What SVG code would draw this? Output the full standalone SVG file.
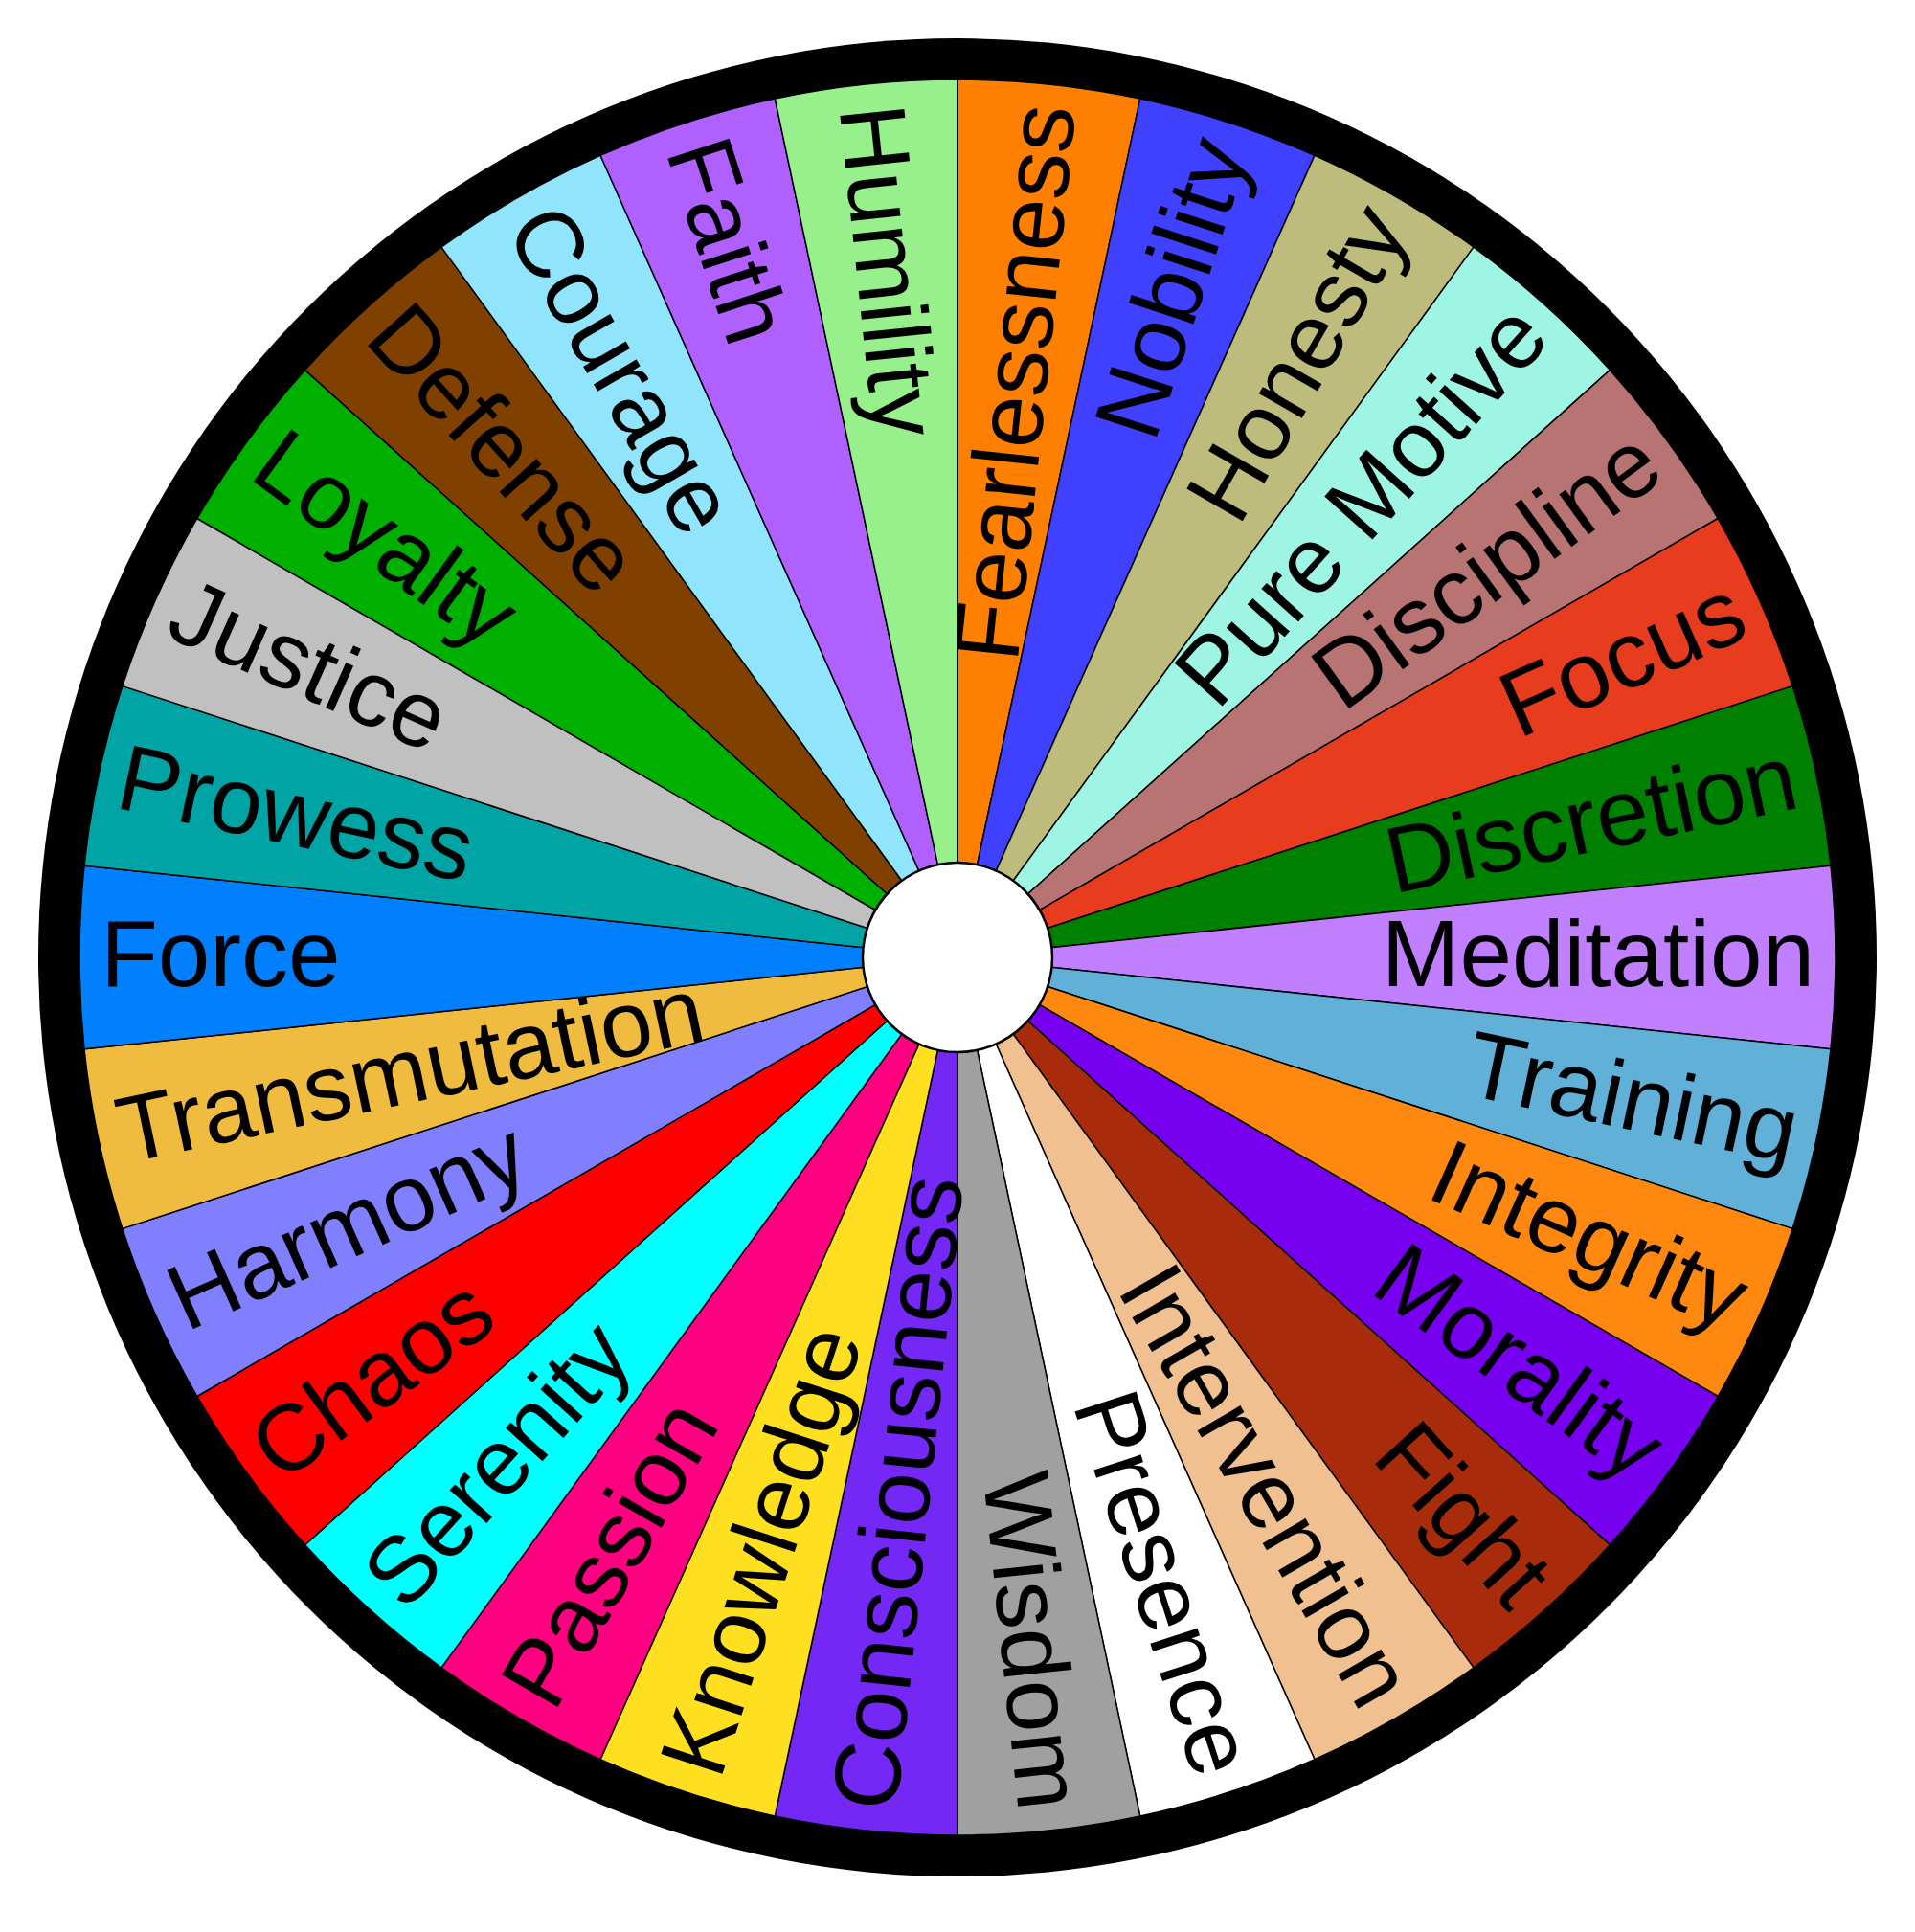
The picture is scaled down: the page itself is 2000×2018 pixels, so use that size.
<svg xmlns="http://www.w3.org/2000/svg" xmlns:xlink="http://www.w3.org/1999/xlink" width="2000" height="2018" viewBox="0 0 2000 2018">
<style>
.w{stroke:#000;stroke-width:1.5;stroke-linejoin:round}
.r{font-family:"Liberation Sans",Arial,sans-serif;font-size:98px;fill:#000;text-anchor:end}
.l{font-family:"Liberation Sans",Arial,sans-serif;font-size:98px;fill:#000;text-anchor:start}
</style>
<defs>
<path id="wedge" d="M1000,1000 L1000,83 A917,917 0 0 1 1190.66,103.04 Z"/>
</defs>
<rect width="2000" height="2018" fill="#fff"/>
<circle id="ring" cx="1000" cy="1000" r="960" fill="#000"/>
<g id="seg-fearlessness"><use xlink:href="#wedge" class="w" fill="#FF8000" transform="rotate(0 1000 1000)"/><text class="r" x="1895" y="1030" transform="rotate(-84 1000 1000)">Fearlessness</text></g>
<g id="seg-nobility"><use xlink:href="#wedge" class="w" fill="#4040FF" transform="rotate(12 1000 1000)"/><text class="r" x="1895" y="1030" transform="rotate(-72 1000 1000)">Nobility</text></g>
<g id="seg-honesty"><use xlink:href="#wedge" class="w" fill="#BDBC7C" transform="rotate(24 1000 1000)"/><text class="r" x="1895" y="1030" transform="rotate(-60 1000 1000)">Honesty</text></g>
<g id="seg-puremotive"><use xlink:href="#wedge" class="w" fill="#9EF5E3" transform="rotate(36 1000 1000)"/><text class="r" x="1895" y="1030" transform="rotate(-48 1000 1000)">Pure Motive</text></g>
<g id="seg-discipline"><use xlink:href="#wedge" class="w" fill="#B87373" transform="rotate(48 1000 1000)"/><text class="r" x="1895" y="1030" transform="rotate(-36 1000 1000)">Discipline</text></g>
<g id="seg-focus"><use xlink:href="#wedge" class="w" fill="#E83C1E" transform="rotate(60 1000 1000)"/><text class="r" x="1895" y="1030" transform="rotate(-24 1000 1000)">Focus</text></g>
<g id="seg-discretion"><use xlink:href="#wedge" class="w" fill="#008000" transform="rotate(72 1000 1000)"/><text class="r" x="1895" y="1030" transform="rotate(-12 1000 1000)">Discretion</text></g>
<g id="seg-meditation"><use xlink:href="#wedge" class="w" fill="#BF7FFF" transform="rotate(84 1000 1000)"/><text class="r" x="1895" y="1030" transform="rotate(0 1000 1000)">Meditation</text></g>
<g id="seg-training"><use xlink:href="#wedge" class="w" fill="#60B0D8" transform="rotate(96 1000 1000)"/><text class="r" x="1895" y="1030" transform="rotate(12 1000 1000)">Training</text></g>
<g id="seg-integrity"><use xlink:href="#wedge" class="w" fill="#FF8811" transform="rotate(108 1000 1000)"/><text class="r" x="1895" y="1030" transform="rotate(24 1000 1000)">Integrity</text></g>
<g id="seg-morality"><use xlink:href="#wedge" class="w" fill="#7800F0" transform="rotate(120 1000 1000)"/><text class="r" x="1895" y="1030" transform="rotate(36 1000 1000)">Morality</text></g>
<g id="seg-fight"><use xlink:href="#wedge" class="w" fill="#A82C0C" transform="rotate(132 1000 1000)"/><text class="r" x="1895" y="1030" transform="rotate(48 1000 1000)">Fight</text></g>
<g id="seg-intervention"><use xlink:href="#wedge" class="w" fill="#F0C090" transform="rotate(144 1000 1000)"/><text class="r" x="1895" y="1030" transform="rotate(60 1000 1000)">Intervention</text></g>
<g id="seg-presence"><use xlink:href="#wedge" class="w" fill="#FFFFFF" transform="rotate(156 1000 1000)"/><text class="r" x="1895" y="1030" transform="rotate(72 1000 1000)">Presence</text></g>
<g id="seg-wisdom"><use xlink:href="#wedge" class="w" fill="#A0A0A0" transform="rotate(168 1000 1000)"/><text class="r" x="1895" y="1030" transform="rotate(84 1000 1000)">Wisdom</text></g>
<g id="seg-consciousness"><use xlink:href="#wedge" class="w" fill="#7428F5" transform="rotate(180 1000 1000)"/><text class="l" x="105" y="1030" transform="rotate(-84 1000 1000)">Consciousness</text></g>
<g id="seg-knowledge"><use xlink:href="#wedge" class="w" fill="#FFE020" transform="rotate(192 1000 1000)"/><text class="l" x="105" y="1030" transform="rotate(-72 1000 1000)">Knowledge</text></g>
<g id="seg-passion"><use xlink:href="#wedge" class="w" fill="#FF0080" transform="rotate(204 1000 1000)"/><text class="l" x="105" y="1030" transform="rotate(-60 1000 1000)">Passion</text></g>
<g id="seg-serenity"><use xlink:href="#wedge" class="w" fill="#00FFFF" transform="rotate(216 1000 1000)"/><text class="l" x="105" y="1030" transform="rotate(-48 1000 1000)">Serenity</text></g>
<g id="seg-chaos"><use xlink:href="#wedge" class="w" fill="#FF0000" transform="rotate(228 1000 1000)"/><text class="l" x="105" y="1030" transform="rotate(-36 1000 1000)">Chaos</text></g>
<g id="seg-harmony"><use xlink:href="#wedge" class="w" fill="#8080FF" transform="rotate(240 1000 1000)"/><text class="l" x="105" y="1030" transform="rotate(-24 1000 1000)">Harmony</text></g>
<g id="seg-transmutation"><use xlink:href="#wedge" class="w" fill="#F0BC40" transform="rotate(252 1000 1000)"/><text class="l" x="105" y="1030" transform="rotate(-12 1000 1000)">Transmutation</text></g>
<g id="seg-force"><use xlink:href="#wedge" class="w" fill="#0080FF" transform="rotate(264 1000 1000)"/><text class="l" x="105" y="1030" transform="rotate(0 1000 1000)">Force</text></g>
<g id="seg-prowess"><use xlink:href="#wedge" class="w" fill="#00A4A4" transform="rotate(276 1000 1000)"/><text class="l" x="105" y="1030" transform="rotate(12 1000 1000)">Prowess</text></g>
<g id="seg-justice"><use xlink:href="#wedge" class="w" fill="#C0C0C0" transform="rotate(288 1000 1000)"/><text class="l" x="105" y="1030" transform="rotate(24 1000 1000)">Justice</text></g>
<g id="seg-loyalty"><use xlink:href="#wedge" class="w" fill="#00B000" transform="rotate(300 1000 1000)"/><text class="l" x="105" y="1030" transform="rotate(36 1000 1000)">Loyalty</text></g>
<g id="seg-defense"><use xlink:href="#wedge" class="w" fill="#804000" transform="rotate(312 1000 1000)"/><text class="l" x="105" y="1030" transform="rotate(48 1000 1000)">Defense</text></g>
<g id="seg-courage"><use xlink:href="#wedge" class="w" fill="#90E4FC" transform="rotate(324 1000 1000)"/><text class="l" x="105" y="1030" transform="rotate(60 1000 1000)">Courage</text></g>
<g id="seg-faith"><use xlink:href="#wedge" class="w" fill="#B060FF" transform="rotate(336 1000 1000)"/><text class="l" x="105" y="1030" transform="rotate(72 1000 1000)">Faith</text></g>
<g id="seg-humility"><use xlink:href="#wedge" class="w" fill="#98F08C" transform="rotate(348 1000 1000)"/><text class="l" x="105" y="1030" transform="rotate(84 1000 1000)">Humility</text></g>
<circle id="hub" cx="1000" cy="1000" r="99" fill="#fff" stroke="#000" stroke-width="2.5"/>
</svg>
